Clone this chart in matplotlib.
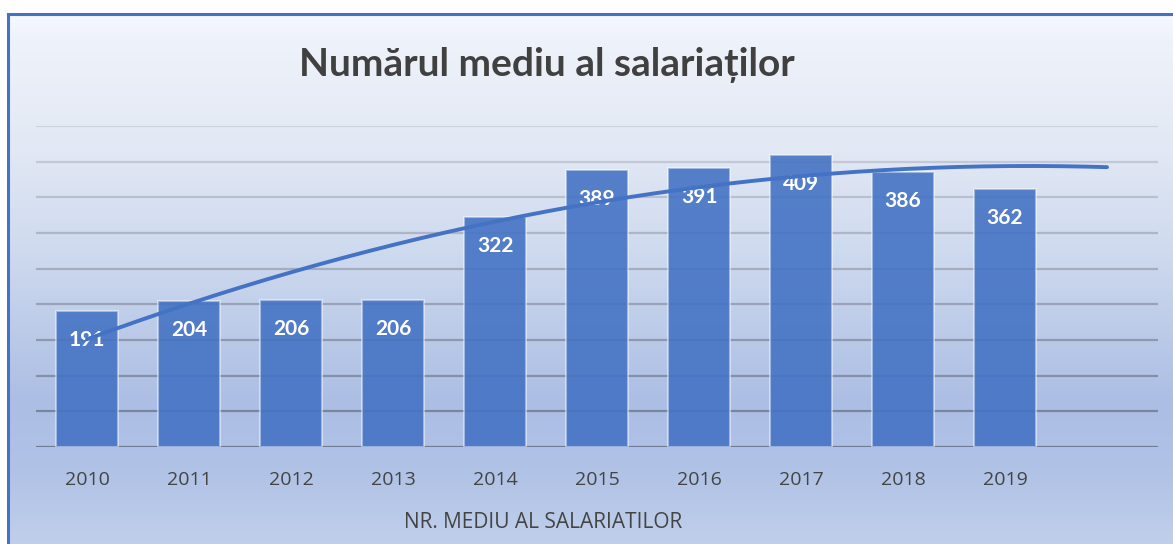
import numpy as np
import matplotlib
matplotlib.use("Agg")
import matplotlib.pyplot as plt
from matplotlib.lines import Line2D

years = ["2010", "2011", "2012", "2013", "2014", "2015", "2016", "2017", "2018", "2019"]
values = [191, 204, 206, 206, 322, 389, 391, 409, 386, 362]
title = "Numărul mediu al salariaților"
xlabel = "NR. MEDIU AL SALARIATILOR"

W, H = 1173, 544
fig = plt.figure(figsize=(W / 100, H / 100), dpi=100)

# background gradient
bg = fig.add_axes([0, 0, 1, 1], zorder=-10)
bg.set_axis_off()
ys = np.arange(H)
stops_y = [0, 13, 40, 150, 250, 400, 470, 544]
stops_c = [(255, 255, 255), (246, 248, 252), (238, 242, 250), (226, 232, 244),
           (206, 218, 238), (172, 190, 228), (176, 194, 230), (192, 207, 235)]
grad = np.zeros((H, W, 3))
for k in range(3):
    col = np.interp(ys, stops_y, [c[k] for c in stops_c]) / 255.0
    grad[:, :, k] = col[:, None]
grad[:13, :, :] = 1.0
grad[:, :7, :] = 1.0
bg.imshow(grad, extent=[0, W, H, 0], aspect="auto", interpolation="bilinear")
bg.set_xlim(0, W)
bg.set_ylim(H, 0)
bcol = "#4472C4"
bg.add_line(Line2D([8, 8], [14, H], color=bcol, lw=2.2))
bg.add_line(Line2D([8, W], [14, 14], color=bcol, lw=2.2))

ax = fig.add_axes([36 / W, 97 / H, (1158 - 36) / W, (447 - 126) / H])
ax.set_facecolor("none")
x = np.arange(len(values))
ax.set_ylim(0, 450)
ax.set_xlim(-0.5, len(values) + 0.5)
ax.set_yticks(np.arange(0, 451, 50))
ax.yaxis.grid(True, lw=1.6)
ax.set_axisbelow(True)
for sp in ax.spines.values():
    sp.set_visible(False)
ax.tick_params(axis="y", left=False, labelleft=False)
ax.tick_params(axis="x", bottom=False, labelsize=14, labelcolor="#444444", pad=14)
ax.set_xticks(x)
ax.set_xticklabels(years, family="Open Sans")

bars = ax.bar(x, values, width=0.6, color=(0.27, 0.45, 0.77, 0.9),
              edgecolor=(1, 1, 1, 0.45), lw=1.5, zorder=2)
for xi, v in zip(x, values):
    ax.annotate(str(v), (xi, v), xytext=(0, -29), textcoords="offset pixels",
                ha="center", va="center", color="white", fontsize=15, fontweight="bold",
                family="Lato", zorder=4)

# polynomial (order 2) trendline, forecast forward one period
coef = np.polyfit(x, values, 2)
xt = np.linspace(0, len(values), 200)
ax.plot(xt, np.polyval(coef, xt), color="#4472C4", lw=2.8, zorder=5, solid_capstyle="round")

# gridline colours darken toward the bottom
for i, gl in enumerate(ax.get_ygridlines()):
    t = i / 9.0
    c = np.array([205, 210, 222]) * t + np.array([112, 124, 150]) * (1 - t)
    gl.set_color(c / 255.0)

fig.text(547 / W, 1 - 65 / H, title, ha="center", va="center", fontsize=28,
         fontweight="bold", color="#404040", family="Lato")
fig.text(543 / W, 1 - 523 / H, xlabel, ha="center", va="center", fontsize=15,
         color="#444444", family="Open Sans")

fig.savefig("out.png", dpi=100)
